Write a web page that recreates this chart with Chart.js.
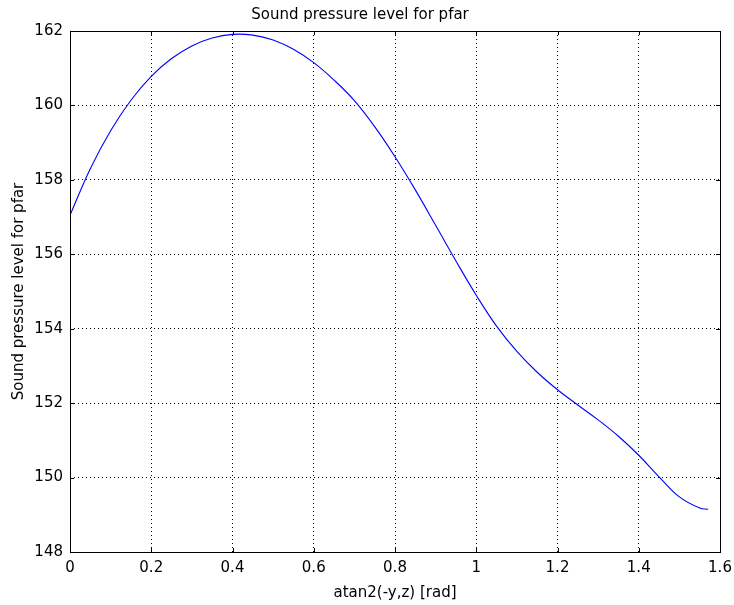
<!DOCTYPE html>
<html>
<head>
<meta charset="utf-8">
<script src="https://cdn.jsdelivr.net/npm/chart.js@4"></script>
<style>
  html, body { margin: 0; padding: 0; background: #fff; }
  #wrap { width: 734px; height: 605px; }
</style>
</head>
<body>
<div id="wrap"><canvas id="c" width="734" height="605"></canvas></div>
<script>
const angles = [0, 0.05, 0.1, 0.15, 0.2, 0.25, 0.3, 0.35, 0.4, 0.45, 0.5, 0.55, 0.6, 0.65, 0.7, 0.75, 0.8, 0.85, 0.9, 0.95, 1.0, 1.05, 1.1, 1.15, 1.2, 1.25, 1.3, 1.35, 1.4, 1.45, 1.5, 1.55, 1.5708];
const splValues = [157.05, 158.30, 159.32, 160.14, 160.78, 161.26, 161.60, 161.81, 161.91, 161.89, 161.76, 161.51, 161.15, 160.68, 160.13, 159.43, 158.62, 157.73, 156.78, 155.82, 154.90, 154.07, 153.39, 152.83, 152.36, 151.95, 151.55, 151.11, 150.60, 150.02, 149.48, 149.18, 149.15];
const xTicks = [0, 0.2, 0.4, 0.6, 0.8, 1, 1.2, 1.4, 1.6];
const yTicks = [148, 150, 152, 154, 156, 158, 160, 162];
const chartTitle = 'Sound pressure level for pfar';
const xTitle = 'atan2(-y,z) [rad]';
const yTitle = 'Sound pressure level for pfar';

const FONT = 'DejaVu Sans';

const framePlugin = {
  id: 'frame',
  afterDatasetsDraw(chart) {
    const {ctx, chartArea: a, scales: {x, y}} = chart;
    ctx.save();
    ctx.strokeStyle = '#000';
    ctx.lineWidth = 1;
    ctx.setLineDash([]);
    ctx.strokeRect(Math.round(a.left) + 0.5, Math.round(a.top) + 0.5, Math.round(a.right - a.left), Math.round(a.bottom - a.top));
    const t = 4;
    ctx.beginPath();
    xTicks.forEach(v => {
      const px = Math.round(x.getPixelForValue(v)) + 0.5;
      ctx.moveTo(px, a.bottom); ctx.lineTo(px, a.bottom - t);
      ctx.moveTo(px, a.top); ctx.lineTo(px, a.top + t);
    });
    yTicks.forEach(v => {
      const py = Math.round(y.getPixelForValue(v)) + 0.5;
      ctx.moveTo(a.left, py); ctx.lineTo(a.left + t, py);
      ctx.moveTo(a.right, py); ctx.lineTo(a.right - t, py);
    });
    ctx.stroke();
    ctx.restore();
  }
};

new Chart(document.getElementById('c'), {
  type: 'line',
  data: {
    datasets: [{
      data: angles.map((a, i) => ({x: a, y: splValues[i]})),
      borderColor: '#0000ff',
      borderWidth: 1.1,
      pointRadius: 0,
      tension: 0.4,
      fill: false
    }]
  },
  options: {
    responsive: false,
    animation: false,
    devicePixelRatio: 1,
    layout: { padding: { left: 0, right: 14, top: 0, bottom: 0 } },
    plugins: {
      legend: { display: false },
      tooltip: { enabled: false },
      title: {
        display: true,
        text: chartTitle,
        color: '#000',
        font: { family: FONT, size: 15, weight: 'normal', lineHeight: 1.2 },
        padding: { top: 6, bottom: 7 }
      }
    },
    scales: {
      x: {
        type: 'linear',
        min: 0, max: 1.6,
        afterBuildTicks(s) { s.ticks = xTicks.map(v => ({value: v})); },
        afterFit(s) { s.height = 53; s.paddingLeft = 0; s.paddingRight = 0; },
        ticks: {
          color: '#000',
          font: { family: FONT, size: 15 },
          padding: 7,
          maxRotation: 0,
          callback: v => String(v)
        },
        grid: { color: '#000', lineWidth: 1, drawTicks: false },
        border: { display: false, dash: [1, 3] },
        title: {
          display: true,
          text: xTitle,
          color: '#000',
          font: { family: FONT, size: 15 },
          padding: { top: 6, bottom: 3 }
        }
      },
      y: {
        type: 'linear',
        min: 148, max: 162,
        afterBuildTicks(s) { s.ticks = yTicks.map(v => ({value: v})); },
        afterFit(s) { s.width = 70; s.paddingTop = 0; s.paddingBottom = 0; },
        ticks: {
          color: '#000',
          font: { family: FONT, size: 15 },
          padding: 7
        },
        grid: { color: '#000', lineWidth: 1, drawTicks: false },
        border: { display: false, dash: [1, 3] },
        title: {
          display: true,
          text: yTitle,
          color: '#000',
          font: { family: FONT, size: 15 },
          padding: { top: 10, bottom: 4 }
        }
      }
    }
  },
  plugins: [framePlugin]
});
</script>
</body>
</html>
